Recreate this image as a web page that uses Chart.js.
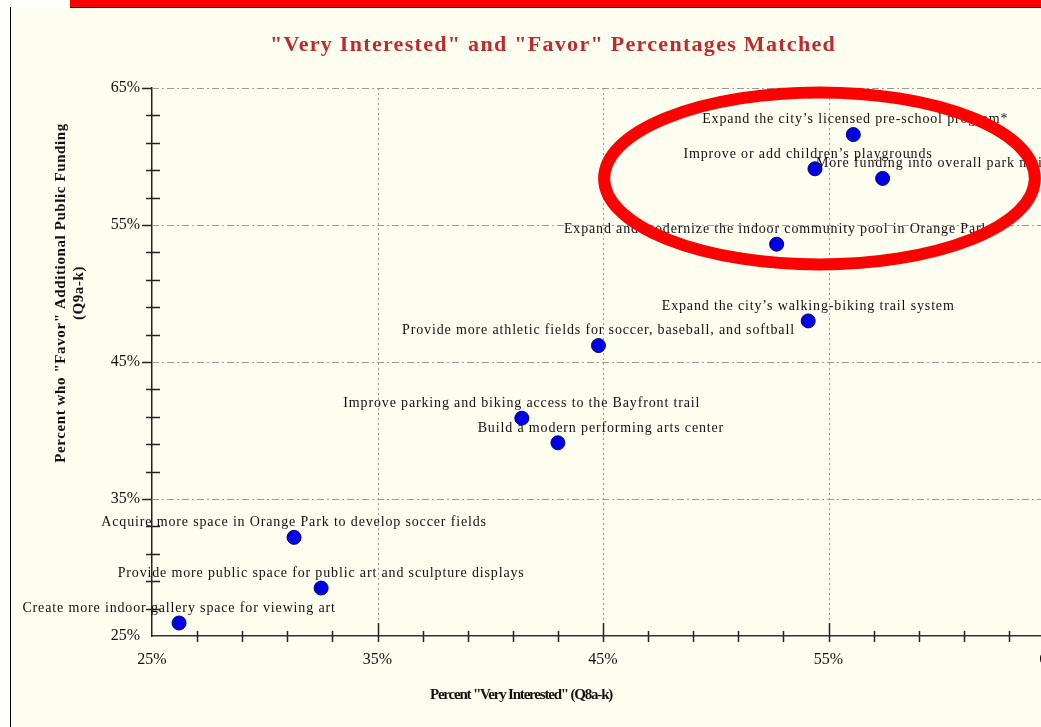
<!DOCTYPE html>
<html>
<head>
<meta charset="utf-8">
<script src="https://cdn.jsdelivr.net/npm/chart.js@4"></script>
<style>
  html, body { margin: 0; padding: 0; background: #ffffff; overflow: hidden; }
  #wrap { position: absolute; left: 0; top: 0; width: 1100px; height: 727px; }
  #redbar { position: absolute; left: 70px; top: 0; width: 980px; height: 7px; background: #ff0000; border-bottom: 1px solid #000; }
  #leftline { position: absolute; left: 10px; top: 7px; width: 1px; height: 720px; background: #000; }
  #leftwhite { position: absolute; left: 0; top: 0; width: 10px; height: 727px; background: #fff; }
  #topwhite { position: absolute; left: 0; top: 0; width: 70px; height: 7px; background: #fff; }
</style>
</head>
<body>
<div id="wrap"><canvas id="scatter"></canvas></div>
<div id="leftwhite"></div>
<div id="topwhite"></div>
<div id="redbar"></div>
<div id="leftline"></div>
<script>
// --- DATA ---
const items = [
    'Create more indoor gallery space for viewing art',
    'Provide more public space for public art and sculpture displays',
    'Acquire more space in Orange Park to develop soccer fields',
    'Build a modern performing arts center',
    'Improve parking and biking access to the Bayfront trail',
    'Provide more athletic fields for soccer, baseball, and softball',
    'Expand the city\u2019s walking-biking trail system',
    'Expand and modernize the indoor community pool in Orange Park',
    'Improve or add children\u2019s playgrounds',
    'More funding into overall park maintenance',
    'Expand the city\u2019s licensed pre-school program*'
];
const veryInterested = [26.2, 32.5, 31.3, 43.0, 41.4, 44.8, 54.1, 52.7, 54.4, 57.4, 56.1];
const favor =          [25.95, 28.5, 32.2, 39.1, 40.9, 46.2, 48.0, 53.6, 59.1, 58.4, 61.6];
const axisTicks = [25, 35, 45, 55, 65];
const minorStep = 2;

// label nudges (px) where the original label is not centred on its point
const labelDx = [0, 0, 0, 43, 0, 0, 0, 0, -7, 75, 2];

// highlight ring, in data units
const ring = { x: 54.6, y: 58.4, rx: 9.55, ry: 6.28 };

const SERIF = '"Liberation Serif", "Times New Roman", serif';

const decor = {
    id: 'decor',
    beforeDraw(chart) {
        const ctx = chart.ctx;
        ctx.save();
        ctx.fillStyle = '#fdfdf0';
        ctx.fillRect(0, 0, chart.width, chart.height);
        ctx.restore();
    },
    beforeDatasetsDraw(chart) {
        const { ctx, chartArea: a, scales: { x, y } } = chart;
        ctx.save();
        // horizontal dash-dot grid
        ctx.strokeStyle = '#9a9a9a';
        ctx.lineWidth = 1;
        ctx.setLineDash([7, 3, 2, 3]);
        axisTicks.slice(1).forEach(v => {
            const py = Math.round(y.getPixelForValue(v)) + 0.5;
            ctx.beginPath(); ctx.moveTo(a.left, py); ctx.lineTo(a.right, py); ctx.stroke();
        });
        // vertical dotted grid
        ctx.setLineDash([2, 3]);
        axisTicks.slice(1).forEach(v => {
            const px = Math.round(x.getPixelForValue(v)) + 0.5;
            ctx.beginPath(); ctx.moveTo(px, a.top); ctx.lineTo(px, a.bottom - 13); ctx.stroke();
        });
        ctx.setLineDash([]);
        // tick marks
        ctx.strokeStyle = '#222';
        ctx.lineWidth = 1.5;
        for (let v = 25 + minorStep; v < 65; v += minorStep) {
            const major = (v - 25) % 10 === 0;
            const px = Math.round(x.getPixelForValue(v)) + 0.5;
            ctx.beginPath();
            ctx.moveTo(px, a.bottom + 6);
            ctx.lineTo(px, a.bottom - (major ? 13 : 5));
            ctx.stroke();
            const py = Math.round(y.getPixelForValue(v)) + 0.5;
            ctx.beginPath();
            ctx.moveTo(a.left - (major ? 10 : 6), py);
            ctx.lineTo(a.left + (major ? 0 : 8), py);
            ctx.stroke();
        }
        const pTop = Math.round(y.getPixelForValue(65)) + 0.5;
        ctx.beginPath(); ctx.moveTo(a.left - 10, pTop); ctx.lineTo(a.left, pTop); ctx.stroke();
        ctx.restore();
    },
    afterDatasetsDraw(chart) {
        const { ctx, scales: { x, y } } = chart;
        ctx.save();
        // point labels
        ctx.fillStyle = '#111';
        ctx.font = '14px ' + SERIF;
        ctx.letterSpacing = '0.85px';
        ctx.textAlign = 'center';
        ctx.textBaseline = 'middle';
        items.forEach((t, i) => {
            const px = x.getPixelForValue(veryInterested[i]) + labelDx[i];
            const py = y.getPixelForValue(favor[i]) - 15;
            ctx.fillText(t, px, py);
        });
        // chart title
        ctx.fillStyle = '#bf2a2e';
        ctx.font = 'bold 22px ' + SERIF;
        ctx.letterSpacing = '1.3px';
        ctx.fillText('"Very Interested" and "Favor" Percentages Matched', 553, 45);
        // axis titles
        ctx.fillStyle = '#111';
        ctx.font = 'bold 15px ' + SERIF;
        ctx.letterSpacing = '-1.2px';
        ctx.fillText('Percent "Very Interested" (Q8a-k)', 521, 695);
        ctx.letterSpacing = '0.6px';
        ctx.translate(61, 293);
        ctx.rotate(-Math.PI / 2);
        ctx.fillText('Percent who "Favor" Additional Public Funding', 0, 0);
        ctx.fillText('(Q9a-k)', 0, 18);
        ctx.restore();
        // red highlight ring
        ctx.save();
        const cx = x.getPixelForValue(ring.x), cy = y.getPixelForValue(ring.y);
        const rx = x.getPixelForValue(ring.x + ring.rx) - cx;
        const ry = cy - y.getPixelForValue(ring.y + ring.ry);
        ctx.strokeStyle = '#ff0000';
        ctx.lineWidth = 12;
        ctx.beginPath();
        ctx.ellipse(cx, cy, rx, ry, 0, 0, Math.PI * 2);
        ctx.stroke();
        ctx.restore();
    }
};

new Chart(document.getElementById('scatter'), {
    type: 'scatter',
    data: {
        datasets: [{
            label: 'Items',
            data: veryInterested.map((v, i) => ({ x: v, y: favor[i] })),
            pointRadius: 7,
            pointHoverRadius: 7,
            backgroundColor: '#0000e6',
            borderColor: '#00007a',
            borderWidth: 1
        }]
    },
    options: {
        responsive: true,
        maintainAspectRatio: false,
        animation: false,
        layout: { padding: { left: 10, top: 88, right: 46, bottom: 0 } },
        plugins: {
            legend: { display: false },
            tooltip: { enabled: false }
        },
        scales: {
            x: {
                type: 'linear',
                min: 25,
                max: 65,
                afterBuildTicks: s => { s.ticks = axisTicks.map(v => ({ value: v })); },
                afterFit: s => { s.height = 91; },
                grid: { display: false },
                border: { display: true, color: '#333', width: 1.5 },
                ticks: {
                    padding: 6,
                    color: '#111',
                    font: { family: SERIF, size: 16 },
                    callback: v => v + '%'
                }
            },
            y: {
                type: 'linear',
                min: 25,
                max: 65,
                afterBuildTicks: s => { s.ticks = axisTicks.map(v => ({ value: v })); },
                afterFit: s => { s.width = 142; },
                grid: { display: false },
                border: { display: true, color: '#222', width: 1.5 },
                ticks: {
                    padding: 4,
                    color: '#111',
                    font: { family: SERIF, size: 16 },
                    callback: v => v + '%'
                }
            }
        }
    },
    plugins: [decor]
});
</script>
</body>
</html>
